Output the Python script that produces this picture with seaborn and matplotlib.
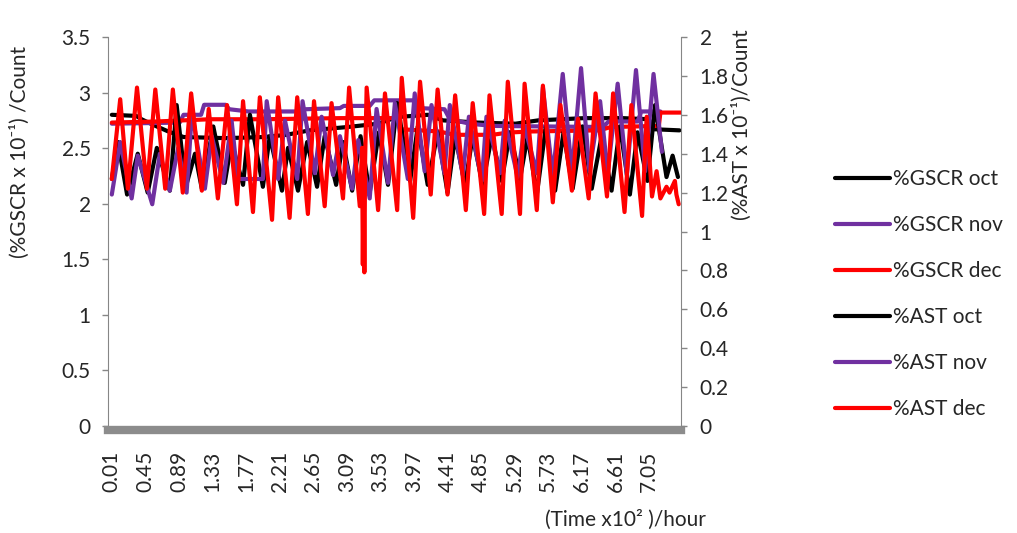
import matplotlib
matplotlib.use("Agg")
import matplotlib.pyplot as plt
import seaborn as sns
import pandas as pd

# time in (hours x10^2); GSCR on the left axis, AST on the right axis
gscr_oct = [(0.01, 2.80), (0.33, 2.79), (0.40, 2.76), (0.55, 2.71), (0.75, 2.65), (0.95, 2.60),
            (1.50, 2.59), (2.00, 2.60), (2.30, 2.62), (2.60, 2.66), (3.10, 2.69), (3.50, 2.72),
            (3.75, 2.78), (4.15, 2.80), (4.35, 2.75), (4.80, 2.73), (5.30, 2.72), (5.60, 2.75),
            (6.20, 2.77), (6.70, 2.77), (7.05, 2.76), (7.12, 2.67), (7.45, 2.66)]
gscr_nov = [(0.01, 2.72), (0.90, 2.73), (0.95, 2.80), (1.18, 2.80), (1.22, 2.89), (1.50, 2.89),
            (1.55, 2.85), (1.80, 2.83), (2.48, 2.83), (2.55, 2.85), (3.00, 2.86), (3.05, 2.88),
            (3.39, 2.88), (3.45, 2.93), (3.98, 2.93), (4.05, 2.86), (4.37, 2.85), (4.44, 2.76),
            (4.70, 2.72), (5.00, 2.70), (6.45, 2.69), (6.52, 2.74), (6.90, 2.74), (6.95, 2.83),
            (7.20, 2.83)]
gscr_dec = [(0.01, 2.73), (0.60, 2.74), (1.30, 2.76), (2.00, 2.76), (3.00, 2.77), (3.75, 2.77),
            (3.80, 2.67), (4.30, 2.65), (4.50, 2.62), (5.00, 2.62), (5.20, 2.64), (5.50, 2.65),
            (6.40, 2.66), (6.55, 2.69), (7.18, 2.70), (7.20, 2.82), (7.47, 2.82)]

ast_oct = [(0.01, 1.27), (0.09, 1.46), (0.21, 1.19), (0.35, 1.40), (0.48, 1.20), (0.60, 1.43),
           (0.77, 1.21), (0.86, 1.65), (0.98, 1.23), (1.10, 1.40), (1.19, 1.22), (1.34, 1.54),
           (1.49, 1.25), (1.58, 1.46), (1.73, 1.24), (1.82, 1.60), (1.99, 1.23), (2.08, 1.49),
           (2.24, 1.21), (2.32, 1.43), (2.45, 1.21), (2.57, 1.46), (2.70, 1.23), (2.80, 1.49),
           (2.95, 1.24), (3.04, 1.46), (3.16, 1.21), (3.27, 1.49), (3.39, 1.20), (3.51, 1.51),
           (3.63, 1.24), (3.75, 1.66), (3.92, 1.26), (4.02, 1.54), (4.15, 1.24), (4.28, 1.51),
           (4.41, 1.20), (4.51, 1.49), (4.64, 1.24), (4.74, 1.49), (4.87, 1.24), (4.99, 1.49),
           (5.12, 1.26), (5.23, 1.51), (5.36, 1.27), (5.46, 1.49), (5.58, 1.19), (5.70, 1.54),
           (5.82, 1.21), (5.93, 1.51), (6.05, 1.22), (6.18, 1.54), (6.30, 1.22), (6.43, 1.49),
           (6.56, 1.21), (6.67, 1.54), (6.80, 1.19), (6.90, 1.51), (7.03, 1.26), (7.13, 1.65),
           (7.28, 1.28), (7.36, 1.39), (7.43, 1.28)]
ast_nov = [(0.01, 1.19), (0.12, 1.46), (0.27, 1.17), (0.35, 1.39), (0.54, 1.14), (0.64, 1.40),
           (0.77, 1.21), (0.88, 1.43), (0.99, 1.20), (1.06, 1.61), (1.23, 1.22), (1.32, 1.49),
           (1.47, 1.25), (1.58, 1.57), (1.66, 1.27), (1.99, 1.27), (2.04, 1.67), (2.19, 1.27),
           (2.28, 1.57), (2.44, 1.27), (2.51, 1.67), (2.67, 1.30), (2.76, 1.59), (2.91, 1.29),
           (3.00, 1.49), (3.16, 1.22), (3.24, 1.47), (3.39, 1.17), (3.48, 1.63), (3.63, 1.25),
           (3.72, 1.66), (3.89, 1.27), (3.98, 1.71), (4.11, 1.31), (4.20, 1.65), (4.37, 1.30),
           (4.44, 1.65), (4.61, 1.29), (4.69, 1.59), (4.86, 1.26), (4.92, 1.59), (5.10, 1.30),
           (5.16, 1.57), (5.33, 1.28), (5.42, 1.54), (5.58, 1.30), (5.66, 1.74), (5.79, 1.28),
           (5.92, 1.81), (6.04, 1.30), (6.16, 1.84), (6.27, 1.31), (6.41, 1.67), (6.51, 1.30),
           (6.64, 1.76), (6.76, 1.29), (6.88, 1.83), (7.00, 1.31), (7.11, 1.81), (7.22, 1.41)]
ast_dec = [(0.01, 1.27), (0.12, 1.68), (0.22, 1.22), (0.34, 1.74), (0.47, 1.22), (0.58, 1.73),
           (0.71, 1.22), (0.81, 1.73), (0.94, 1.20), (1.05, 1.71), (1.19, 1.21), (1.28, 1.63),
           (1.40, 1.17), (1.52, 1.65), (1.65, 1.14), (1.73, 1.67), (1.86, 1.10), (1.95, 1.69),
           (2.11, 1.06), (2.19, 1.69), (2.34, 1.07), (2.44, 1.69), (2.58, 1.09), (2.66, 1.67),
           (2.80, 1.13), (2.89, 1.66), (3.04, 1.17), (3.12, 1.74), (3.26, 1.13), (3.29, 1.43),
           (3.30, 0.83), (3.31, 1.31), (3.32, 0.79), (3.33, 1.37), (3.35, 1.74), (3.50, 1.11),
           (3.59, 1.71), (3.75, 1.11), (3.81, 1.79), (3.96, 1.07), (4.05, 1.77), (4.19, 1.19),
           (4.28, 1.73), (4.41, 1.19), (4.51, 1.70), (4.65, 1.11), (4.74, 1.66), (4.89, 1.09),
           (4.96, 1.70), (5.12, 1.09), (5.20, 1.77), (5.36, 1.09), (5.42, 1.76), (5.58, 1.11),
           (5.66, 1.75), (5.79, 1.15), (5.89, 1.65), (6.04, 1.21), (6.12, 1.58), (6.26, 1.17),
           (6.35, 1.71), (6.50, 1.18), (6.58, 1.71), (6.73, 1.10), (6.82, 1.65), (6.96, 1.08),
           (7.02, 1.59), (7.09, 1.18), (7.15, 1.31), (7.20, 1.17), (7.28, 1.23), (7.32, 1.20),
           (7.39, 1.26), (7.41, 1.19), (7.44, 1.14)]

x_labels = ["0.01", "0.45", "0.89", "1.33", "1.77", "2.21", "2.65", "3.09", "3.53",
            "3.97", "4.41", "4.85", "5.29", "5.73", "6.17", "6.61", "7.05"]
left_labels = ["0", "0.5", "1", "1.5", "2", "2.5", "3", "3.5"]
right_labels = ["0", "0.2", "0.4", "0.6", "0.8", "1", "1.2", "1.4", "1.6", "1.8", "2"]

BLACK, PURPLE, RED = "#000000", "#7030A0", "#FF0000"
primary = [("%GSCR oct", gscr_oct, BLACK), ("%GSCR nov", gscr_nov, PURPLE), ("%GSCR dec", gscr_dec, RED)]
secondary = [("%AST oct", ast_oct, BLACK), ("%AST nov", ast_nov, PURPLE), ("%AST dec", ast_dec, RED)]

sns.set_style("white")
plt.rcParams['font.family'] = ['Lato', 'DejaVu Sans']
GREY = "#868686"

fig = plt.figure(figsize=(10.17, 5.33), dpi=100)
ax = fig.add_axes([108 / 1017, 1 - 426 / 533, 573 / 1017, 389 / 533])
ax2 = ax.twinx()

for axis, series in [(ax, primary), (ax2, secondary)]:
    for name, pairs, color in series:
        df = pd.DataFrame(pairs, columns=["time", "value"])
        sns.lineplot(data=df, x="time", y="value", ax=axis, color=color, lw=3,
                     estimator=None, sort=False, legend=False)
    axis.set_xlabel("")
    axis.set_ylabel("")

ax.set_xlim(-0.04, 7.47)
ax.set_ylim(0, 3.5)
ax2.set_ylim(0, 2)

ax.set_xticks([float(s) for s in x_labels], x_labels)
ax.set_yticks([float(s) for s in left_labels], left_labels)
ax2.set_yticks([float(s) for s in right_labels], right_labels)

ax.tick_params(axis="x", length=0, pad=15, labelsize=15, labelrotation=90)
ax.tick_params(axis="y", length=4.5, width=1, color=GREY, pad=8, labelsize=15)
ax2.tick_params(axis="y", length=4.5, width=1, color=GREY, pad=9, labelsize=15)

for s in ["top", "right"]:
    ax.spines[s].set_visible(False)
for s in ["top", "left", "bottom"]:
    ax2.spines[s].set_visible(False)
ax.spines["left"].set_color(GREY)
ax2.spines["right"].set_color(GREY)
ax.spines["bottom"].set_color("#8c8c8c")
ax.spines["bottom"].set_linewidth(6)
ax.spines["bottom"].set_position(("outward", 3))

fig.text(20 / 1017, 1 - 152 / 533, "(%GSCR x 10\u207b\u00b9) /Count", rotation=90,
         ha="center", va="center", fontsize=15)
fig.text(742 / 1017, 1 - 125 / 533, "(%AST x 10\u207b\u00b9)/Count", rotation=90,
         ha="center", va="center", fontsize=15)
fig.text(625 / 1017, 1 - 520 / 533, "(Time x10\u00b2 )/hour", ha="center", va="center", fontsize=15)

handles = ax.get_lines() + ax2.get_lines()
labels = [name for name, _, _ in primary + secondary]
fig.legend(handles, labels, loc="center left", bbox_to_anchor=(835 / 1017, 1 - 294 / 533),
           frameon=False, fontsize=15, handlelength=2.65, handletextpad=0.15,
           labelspacing=1.25, borderpad=0, borderaxespad=0)

fig.savefig("out.png", dpi=100)
